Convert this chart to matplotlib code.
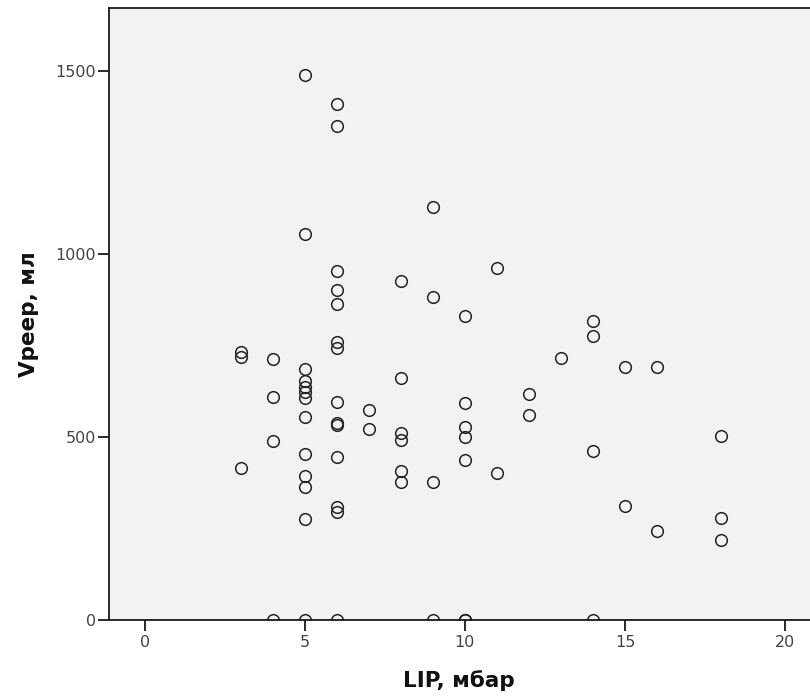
import matplotlib
matplotlib.use("Agg")
import matplotlib.pyplot as plt

# LIP (mbar) per group, and the Vpeep values (ml) measured at that LIP
lip_levels = [3, 4, 5, 6, 7, 8, 9, 10, 11, 12, 13, 14, 15, 16, 18]
vpeep_by_lip = [
    [732, 718, 415],
    [712, 610, 490, 0],
    [1489, 1055, 686, 652, 638, 624, 606, 556, 454, 394, 364, 276, 0],
    [1411, 1351, 954, 903, 863, 760, 742, 596, 538, 534, 446, 310, 296, 0],
    [574, 521],
    [927, 662, 510, 492, 408, 377],
    [1128, 882, 377, 0],
    [830, 594, 528, 501, 437, 0, 0],
    [961, 402],
    [619, 560],
    [717],
    [818, 776, 462, 0],
    [692, 311],
    [692, 243],
    [503, 280, 219],
]

x_ticks = [0, 5, 10, 15, 20]
y_ticks = [0, 500, 1000, 1500]

lip = []
vpeep = []
for lv, vals in zip(lip_levels, vpeep_by_lip):
    for v in vals:
        lip.append(lv)
        vpeep.append(v)

plt.rcParams['font.family'] = ['DejaVu Sans']

fig = plt.figure(figsize=(8.1, 6.96), dpi=100)
ax = fig.add_axes([0.134, 0.109, 0.866, 0.8795])
ax.set_facecolor('#f2f2f2')

ax.plot(lip, vpeep, linestyle='none', marker='o', markersize=8.4,
        markerfacecolor='none', markeredgecolor='#222222', markeredgewidth=1.1)

ax.set_xlim(-1.13, 20.78)
ax.set_ylim(0, 1672)
ax.set_xticks(x_ticks)
ax.set_yticks(y_ticks)

for side in ['left', 'top', 'bottom']:
    ax.spines[side].set_linewidth(1.3)
    ax.spines[side].set_color('#1a1a1a')
ax.spines['right'].set_visible(False)

ax.tick_params(axis='both', direction='out', length=8, width=1.3,
               color='#1a1a1a', labelsize=11.5, labelcolor='#444444')
ax.tick_params(axis='x', pad=3)
ax.tick_params(axis='y', pad=1)

ax.set_xlabel('LIP, мбар', fontsize=15.5, fontweight='bold', color='#111111', labelpad=14)
ax.set_ylabel('Vpeep, мл', fontsize=15.5, fontweight='bold', color='#111111', labelpad=12)

fig.savefig('out.png', dpi=100)
